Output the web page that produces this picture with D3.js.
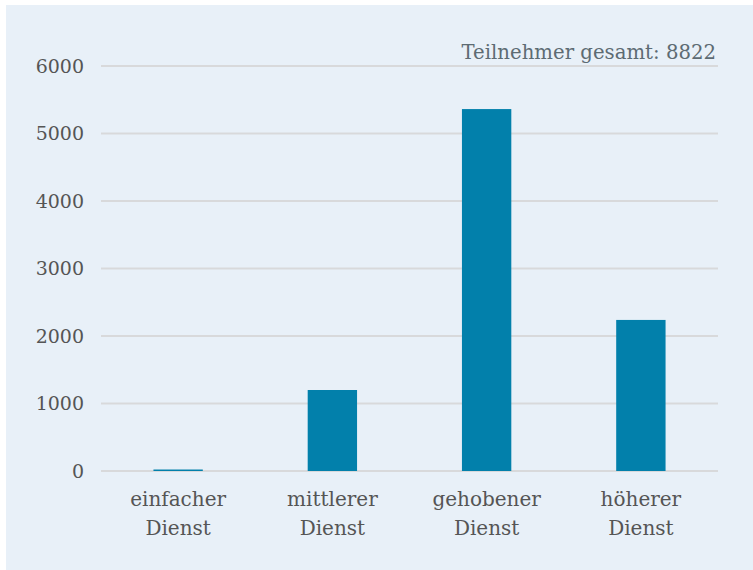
<!DOCTYPE html>
<html>
<head>
<meta charset="utf-8">
<script src="https://cdn.jsdelivr.net/npm/d3@7"></script>
<style>
  body { margin: 0; background: #fff; }
  text { font-family: "DejaVu Serif", "Liberation Serif", serif; }
</style>
</head>
<body>
<div id="chart"></div>
<script>
// categories (two-line labels) and participant counts
var categories = [["einfacher", "Dienst"], ["mittlerer", "Dienst"], ["gehobener", "Dienst"], ["höherer", "Dienst"]];
var values = [22, 1200, 5362, 2238];
var yTicks = [0, 1000, 2000, 3000, 4000, 5000, 6000];
var totalLabel = "Teilnehmer gesamt: 8822";

var width = 753;
var height = 570;

var margin = {
    top: 66,
    bottom: 99,
    left: 101,
    right: 35
};

var svg = d3.select("#chart")
    .append("svg")
    .attr("width", width)
    .attr("height", height);

svg.append("rect")
    .attr("x", 6)
    .attr("y", 5)
    .attr("width", width - 6)
    .attr("height", height - 5)
    .attr("fill", "#e8f0f8");

var x = d3.scaleBand()
    .domain(categories.map(function(d) { return d.join(" "); }))
    .range([margin.left, width - margin.right])
    .paddingInner(0.68)
    .paddingOuter(0.34);

var y = d3.scaleLinear()
    .domain([0, 6000])
    .range([height - margin.bottom, margin.top]);

// gridlines
svg.append("g")
    .selectAll("line")
    .data(yTicks)
    .enter()
    .append("line")
    .attr("x1", margin.left)
    .attr("x2", width - margin.right)
    .attr("y1", function(d) { return y(d); })
    .attr("y2", function(d) { return y(d); })
    .attr("stroke", "#d8d9db")
    .attr("stroke-width", 2);

// y labels
svg.append("g")
    .selectAll("text")
    .data(yTicks)
    .enter()
    .append("text")
    .attr("x", 84)
    .attr("y", function(d) { return y(d); })
    .attr("dy", "0.35em")
    .attr("text-anchor", "end")
    .attr("fill", "#555")
    .style("font-size", "19px")
    .text(function(d) { return d; });

// bars
svg.append("g")
    .selectAll("rect")
    .data(values)
    .enter()
    .append("rect")
    .attr("x", function(d, i) { return x(categories[i].join(" ")); })
    .attr("y", function(d) { return y(d); })
    .attr("width", x.bandwidth())
    .attr("height", function(d) { return y(0) - y(d); })
    .attr("fill", "#0280ab");

// x labels
var xl = svg.append("g")
    .selectAll("text")
    .data(categories)
    .enter()
    .append("text")
    .attr("text-anchor", "middle")
    .attr("fill", "#555")
    .style("font-size", "20px")
    .attr("transform", function(d) {
        return "translate(" + (x(d.join(" ")) + x.bandwidth() / 2) + "," + (y(0) + 35) + ")";
    });

xl.selectAll("tspan")
    .data(function(d) { return d; })
    .enter()
    .append("tspan")
    .attr("x", 0)
    .attr("dy", function(d, i) { return i === 0 ? 0 : "1.45em"; })
    .text(function(d) { return d; });

svg.append("text")
    .attr("x", width - margin.right - 2)
    .attr("y", 59)
    .attr("text-anchor", "end")
    .attr("fill", "#5d6b73")
    .style("font-size", "19.7px")
    .text(totalLabel);
</script>
</body>
</html>
